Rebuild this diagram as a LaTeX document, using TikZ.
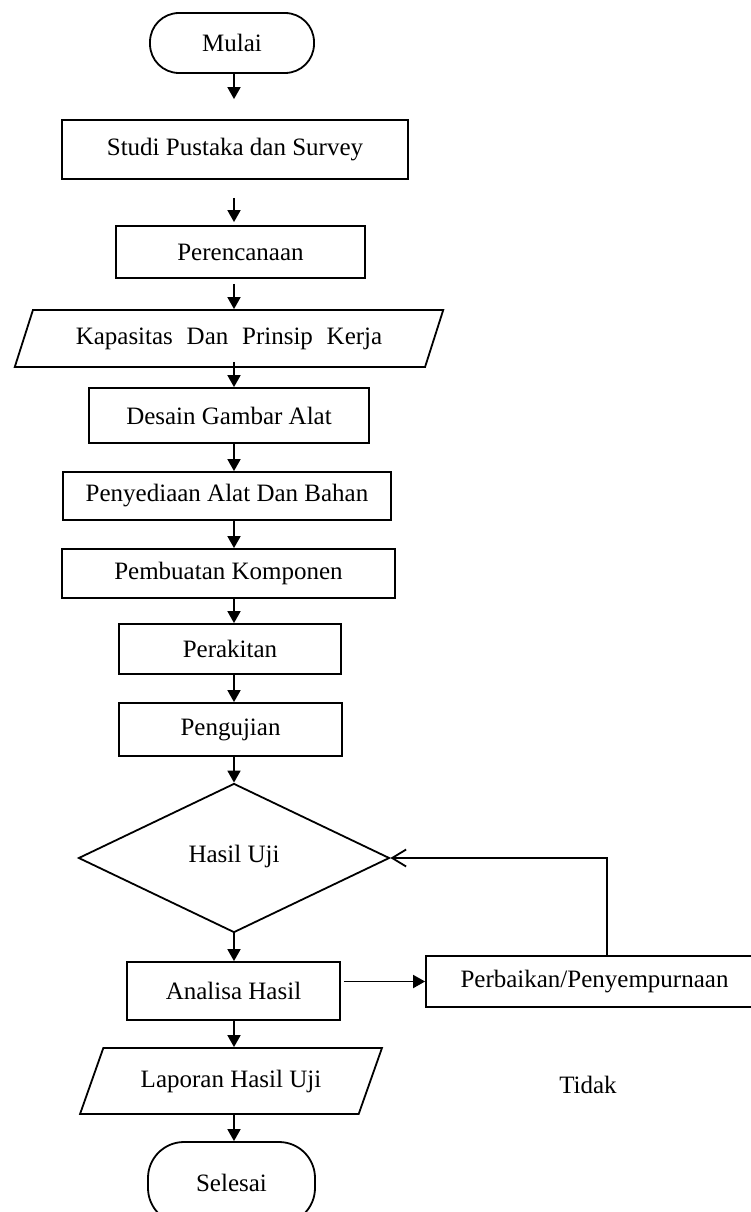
\documentclass[tikz,border=0pt]{standalone}
\usepackage{fontspec}
\setmainfont{Liberation Serif}
\usetikzlibrary{arrows.meta,shapes.geometric}

\begin{document}
\begin{tikzpicture}[x=1pt, y=-1pt, font=\fontsize{25}{30}\selectfont,
  box/.style={draw, line width=1.8pt, inner sep=0pt},
  term/.style={box, rounded corners=29pt},
  iobox/.style={box, trapezium, trapezium left angle=76, trapezium right angle=104,
                trapezium stretches, text height=18pt, text depth=6pt},
  arr/.style={line width=1.8pt, -{Triangle[length=12pt,width=13pt]}}]
\useasboundingbox (0,0) rectangle (751,1212);
\coordinate (col) at (234,0);
\coordinate (back) at (607,857);
% terminals
\node[term, minimum width=164, minimum height=60] (mulai) at (232,43) {Mulai};
\node[term, rounded corners=36pt, minimum width=167, minimum height=82] (selesai) at (231.5,1183) {Selesai};
% process boxes
\foreach \n/\x/\y/\w/\h/\t in {studi/235/149.5/346/59/Studi Pustaka dan Survey,
                              renc/240.5/252/249/52/Perencanaan,
                              desain/229/415.5/280/55/Desain Gambar Alat,
                              sedia/227/496/328/48/Penyediaan Alat Dan Bahan,
                              buat/228.5/573.5/333/49/Pembuatan Komponen,
                              rakit/230/649/222/50/Perakitan,
                              uji/230.5/729.5/223/53/Pengujian,
                              analisa/233.5/991/213/58/Analisa Hasil} {
  \node[box, minimum width=\w, minimum height=\h] (\n) at (\x,\y) {\t};
}
\node[box, minimum width=337, minimum height=51] (baik) at (594.5,981.5) {Perbaikan/Penyempurnaan};
% input/output
\node[iobox, inner ysep=16.5pt, minimum width=430] (kap) at (229,338.5)
  {Kapasitas\hspace{0.55em}Dan\hspace{0.55em}Prinsip\hspace{0.55em}Kerja};
\node[iobox, inner ysep=21pt, minimum width=302] (lapor) at (231,1081) {Laporan Hasil Uji};
% decision
\node[box, diamond, minimum width=311, minimum height=149] (hasil) at (234,858) {\raisebox{9pt}{Hasil Uji}};
\node (tidak) at (588,1085) {Tidak};
% connectors
\draw[arr, shorten >=20pt] (mulai.south -| col) -- (studi.north -| col);
\draw[arr, shorten <=18pt, shorten >=3pt] (studi.south -| col) -- (renc.north -| col);
\draw[arr, shorten <=5pt] (renc.south -| col) -- (kap.north -| col);
\draw[arr, shorten <=-6pt] (kap.south -| col) -- (desain.north -| col);
\foreach \a/\b in {desain/sedia, sedia/buat, buat/rakit, rakit/uji, uji/hasil,
                   hasil/analisa, analisa/lapor, lapor/selesai} {
  \draw[arr] (\a.south -| col) -- (\b.north -| col);
}
\draw[arr, shorten <=3pt] (analisa.east |- baik.west) -- (baik.west);
\draw[line width=1.8pt, -{Straight Barb[length=14pt,width=17pt]}] (baik.north -| back) |- (hasil.east);
\end{tikzpicture}
\end{document}
